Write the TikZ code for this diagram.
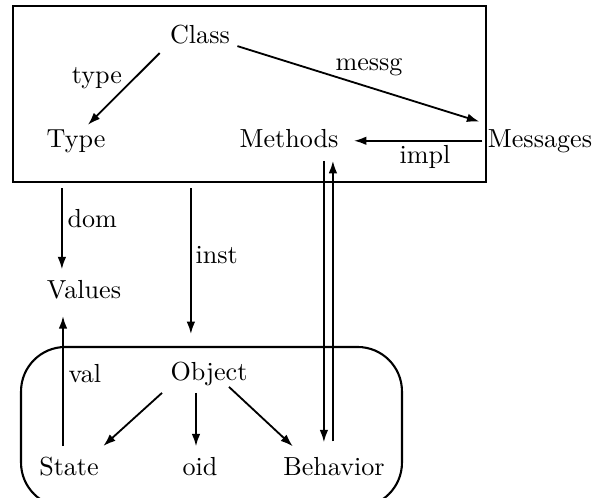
\documentclass[tikz,border=0pt]{standalone}
\usetikzlibrary{arrows.meta,calc}

\begin{document}
\begin{tikzpicture}[
  x=0.383pt, y=-0.383pt,
  lbl/.style={inner sep=0pt, anchor=base},
  lblw/.style={inner sep=0pt, anchor=base west},
  arr/.style={line width=0.7pt, -{Latex[length=4.8pt,width=3.3pt]}},
  frame/.style={draw, line width=0.8pt, inner sep=0pt}
]
\useasboundingbox (0,0) rectangle (599,497);

% class box and object box
\node[frame, minimum width=181.2pt, minimum height=67.4pt] (classbox) at (249.5,94) {};
\node[frame, rounded corners=17pt, minimum width=145.9pt, minimum height=61.3pt] (objbox) at (211.5,427) {};

% entities
\node[lbl] (class)    at (200,43)  {Class};
\node[lbl] (type)     at (76,147)  {Type};
\node[lbl] (methods)  at (289,147) {Methods};
\node[lbl] (messages) at (540,147) {Messages};
\node[lbl] (values)   at (84,298)  {Values};
\node[lbl] (object)   at (209,380) {Object};
\node[lbl] (state)    at (69,475)  {State};
\node[lbl] (oid)      at (200,475) {oid};
\node[lbl] (behavior) at (334,475) {Behavior};

% edge labels
\node[lbl]  (ltype) at (97,83)   {type};
\node[lbl]  (lmsg)  at (369,70)  {messg};
\node[lbl]  (limpl) at (425,163) {impl};
\node[lblw] (ldom)  at (67,227)  {dom};
\node[lblw] (linst) at (195,263) {inst};
\node[lblw] (lval)  at (68,382)  {val};

% connectors inside the class box
\draw[arr] ($(class.south west)+(-10,9)$) -- ($(type.north east)+(-18,-4)$);
\draw[arr] ($(class.south east)+(7,2)$) -- ($(messages.north west)+(-8,-7)$);
\draw[arr] ($(messages.west)+(-5,0)$) -- ($(methods.east |- messages.west)+(15,0)$);

% start points of the vertical connectors
\coordinate (down) at ($(methods.south east)+(-15,13)$);
\coordinate (up)   at ($(methods.south east)+(-6,13)$);
\coordinate (dom)  at ($(classbox.south west)+(50,5)$);
\coordinate (inst) at ($(classbox.south west)+(179,5)$);
\coordinate (val)  at ($(state.north)+(-6,-10)$);
\coordinate (oidtop) at ($(object.south)+(-13,7)$);

% methods <-> behavior
\draw[arr] (down) -- ($(down |- behavior.north)+(0,-14)$);
\draw[arr] ($(up |- behavior.north)+(0,-15)$) -- (up);

% class box to values and object
\draw[arr] (dom) -- ($(dom |- values.north)+(0,-10)$);
\draw[arr] (inst) -- ($(inst |- object.north)+(0,-27)$);

% state to values
\draw[arr] (val) -- ($(val |- values.south)+(0,17)$);

% object parts
\draw[arr] ($(object.south west)+(-8,7)$) -- ($(state.north east)+(4,-10)$);
\draw[arr] (oidtop) -- ($(oidtop |- oid.north)+(0,-10)$);
\draw[arr] ($(object.south east)+(-19,1)$) -- ($(behavior.north west)+(10,-10)$);
\end{tikzpicture}
\end{document}
